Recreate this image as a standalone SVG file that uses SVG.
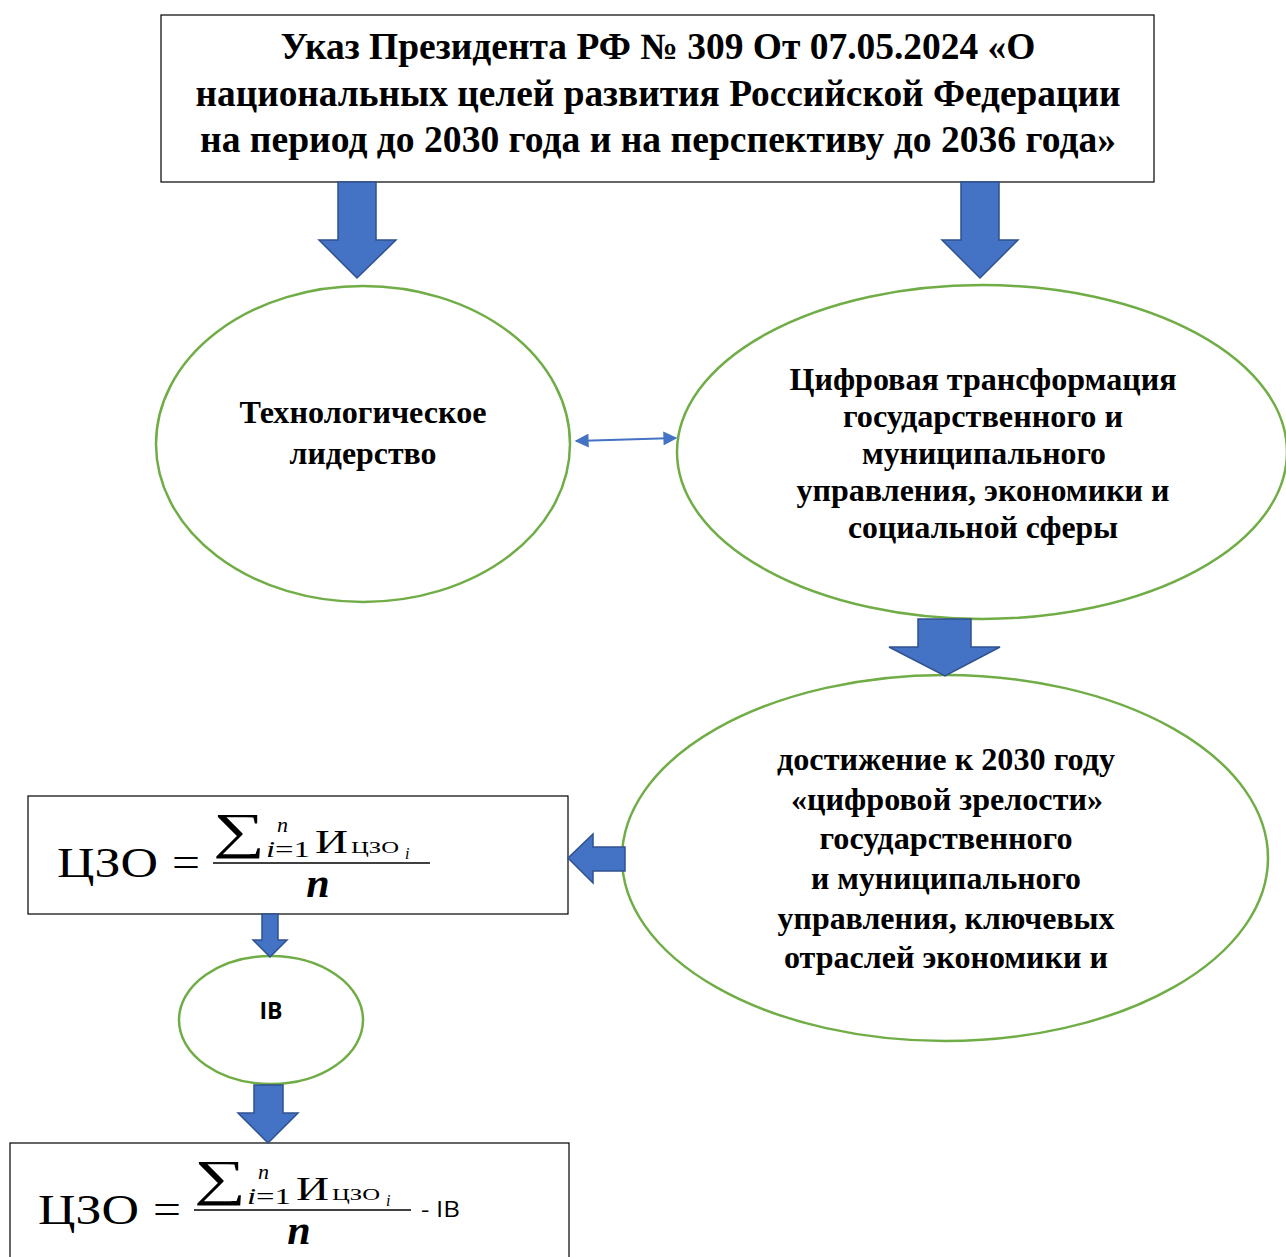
<svg xmlns="http://www.w3.org/2000/svg" width="1286" height="1257" viewBox="0 0 1286 1257">
<style>
.box{fill:#fff;stroke:#000;stroke-width:1.2}
.ell{fill:#fff;stroke:#70AD47;stroke-width:2.5}
.blk{fill:#4472C4;stroke:#2F528F;stroke-width:1.5;stroke-linejoin:miter}
.t{font-family:"Liberation Serif","Times New Roman",serif;font-weight:bold;fill:#000;text-anchor:middle}
.m{font-family:"Liberation Serif","Times New Roman",serif;fill:#000}
.s{font-family:"Open Sans","Liberation Sans",Arial,sans-serif;fill:#000}
</style>
<defs>
<marker id="ah" viewBox="0 0 10 10" refX="9" refY="5" markerWidth="7.5" markerHeight="7" orient="auto-start-reverse" markerUnits="strokeWidth">
<path d="M0,0 L10,5 L0,10 z" fill="#4472C4"/>
</marker>
<g id="formula">
<text class="m" x="57" y="877" font-size="42" textLength="101" lengthAdjust="spacingAndGlyphs">ЦЗО</text>
<text class="m" x="172" y="876" font-size="42" textLength="28" lengthAdjust="spacingAndGlyphs">=</text>
<text class="m" x="213" y="848" font-size="50" textLength="52" lengthAdjust="spacingAndGlyphs">∑</text>
<text class="m" x="277" y="832" font-size="22" font-style="italic">n</text>
<text class="m" x="266" y="857" font-size="23" textLength="44" lengthAdjust="spacingAndGlyphs"><tspan font-style="italic">i</tspan>=1</text>
<text class="m" x="315" y="853" font-size="34" textLength="33" lengthAdjust="spacingAndGlyphs">И</text>
<text class="m" x="351" y="853" font-size="17" textLength="48" lengthAdjust="spacingAndGlyphs">ЦЗО</text>
<text class="m" x="405" y="859" font-size="16" font-style="italic">i</text>
<line x1="213" y1="863" x2="430" y2="863" stroke="#000" stroke-width="1.5"/>
<text class="m" x="318" y="897" font-size="42" font-style="italic" font-weight="bold" text-anchor="middle">n</text>
</g>
</defs>

<g id="node-decree">
<rect class="box" x="161" y="15" width="993" height="167"/>
<text class="t" font-size="37"><tspan x="658" y="59" textLength="755" lengthAdjust="spacingAndGlyphs">Указ Президента РФ № 309 От 07.05.2024 «О</tspan><tspan x="658" y="106" textLength="925" lengthAdjust="spacingAndGlyphs">национальных целей развития Российской Федерации</tspan><tspan x="658" y="152" textLength="916" lengthAdjust="spacingAndGlyphs">на период до 2030 года и на перспективу до 2036 года»</tspan></text>
</g>

<g id="node-tech">
<ellipse class="ell" cx="363" cy="444" rx="207" ry="158"/>
<text class="t" font-size="32"><tspan x="363" y="423" textLength="247" lengthAdjust="spacingAndGlyphs">Технологическое</tspan><tspan x="363" y="464" textLength="147" lengthAdjust="spacingAndGlyphs">лидерство</tspan></text>
</g>

<g id="node-digital">
<ellipse class="ell" cx="982" cy="452" rx="305" ry="167"/>
<text class="t" font-size="32"><tspan x="983" y="390" textLength="387" lengthAdjust="spacingAndGlyphs">Цифровая трансформация</tspan><tspan x="983" y="427" textLength="280" lengthAdjust="spacingAndGlyphs">государственного и</tspan><tspan x="984" y="464" textLength="244" lengthAdjust="spacingAndGlyphs">муниципального</tspan><tspan x="983" y="501" textLength="373" lengthAdjust="spacingAndGlyphs">управления, экономики и</tspan><tspan x="983" y="538" textLength="270" lengthAdjust="spacingAndGlyphs">социальной сферы</tspan></text>
</g>

<g id="node-maturity">
<ellipse class="ell" cx="945" cy="858" rx="323" ry="183"/>
<text class="t" font-size="32"><tspan x="946" y="770" textLength="338" lengthAdjust="spacingAndGlyphs">достижение к 2030 году</tspan><tspan x="947" y="810" textLength="312" lengthAdjust="spacingAndGlyphs">«цифровой зрелости»</tspan><tspan x="946" y="849" textLength="253" lengthAdjust="spacingAndGlyphs">государственного</tspan><tspan x="946" y="889" textLength="270" lengthAdjust="spacingAndGlyphs">и муниципального</tspan><tspan x="946" y="929" textLength="337" lengthAdjust="spacingAndGlyphs">управления, ключевых</tspan><tspan x="946" y="968" textLength="324" lengthAdjust="spacingAndGlyphs">отраслей экономики и</tspan></text>
</g>

<g id="node-formula1">
<rect class="box" x="28" y="796" width="540" height="118"/>
<use href="#formula"/>
</g>

<g id="node-ib">
<ellipse class="ell" cx="271" cy="1020" rx="92" ry="64"/>
<text class="s" x="271" y="1019" font-size="23" font-weight="bold" text-anchor="middle">IB</text>
</g>

<g id="node-formula2">
<rect class="box" x="10" y="1143" width="559" height="130"/>
<use href="#formula" transform="translate(-19,347)"/>
<text class="s" x="421" y="1217" font-size="22" textLength="39" lengthAdjust="spacingAndGlyphs">- IB</text>
</g>

<g id="connectors">
<path class="blk" d="M338,182 H376 V240 H396 L357,278 L319,240 H338 Z"/>
<path class="blk" d="M961,182 H999 V240 H1018 L980,278 L942,240 H961 Z"/>
<line x1="576" y1="441" x2="676" y2="438" stroke="#4472C4" stroke-width="2" marker-start="url(#ah)" marker-end="url(#ah)"/>
<path class="blk" d="M918,619 H971 V647 H1000 L945,676 L889,647 H918 Z"/>
<path class="blk" d="M625,847 V871 H593 V883 L568,858 L593,834 V847 Z"/>
<path class="blk" d="M262,914 H278 V940 H287 L270,957 L253,940 H262 Z"/>
<path class="blk" d="M254,1085 H283 V1113 H298 L268,1143 L238,1113 H254 Z"/>
</g>
</svg>
